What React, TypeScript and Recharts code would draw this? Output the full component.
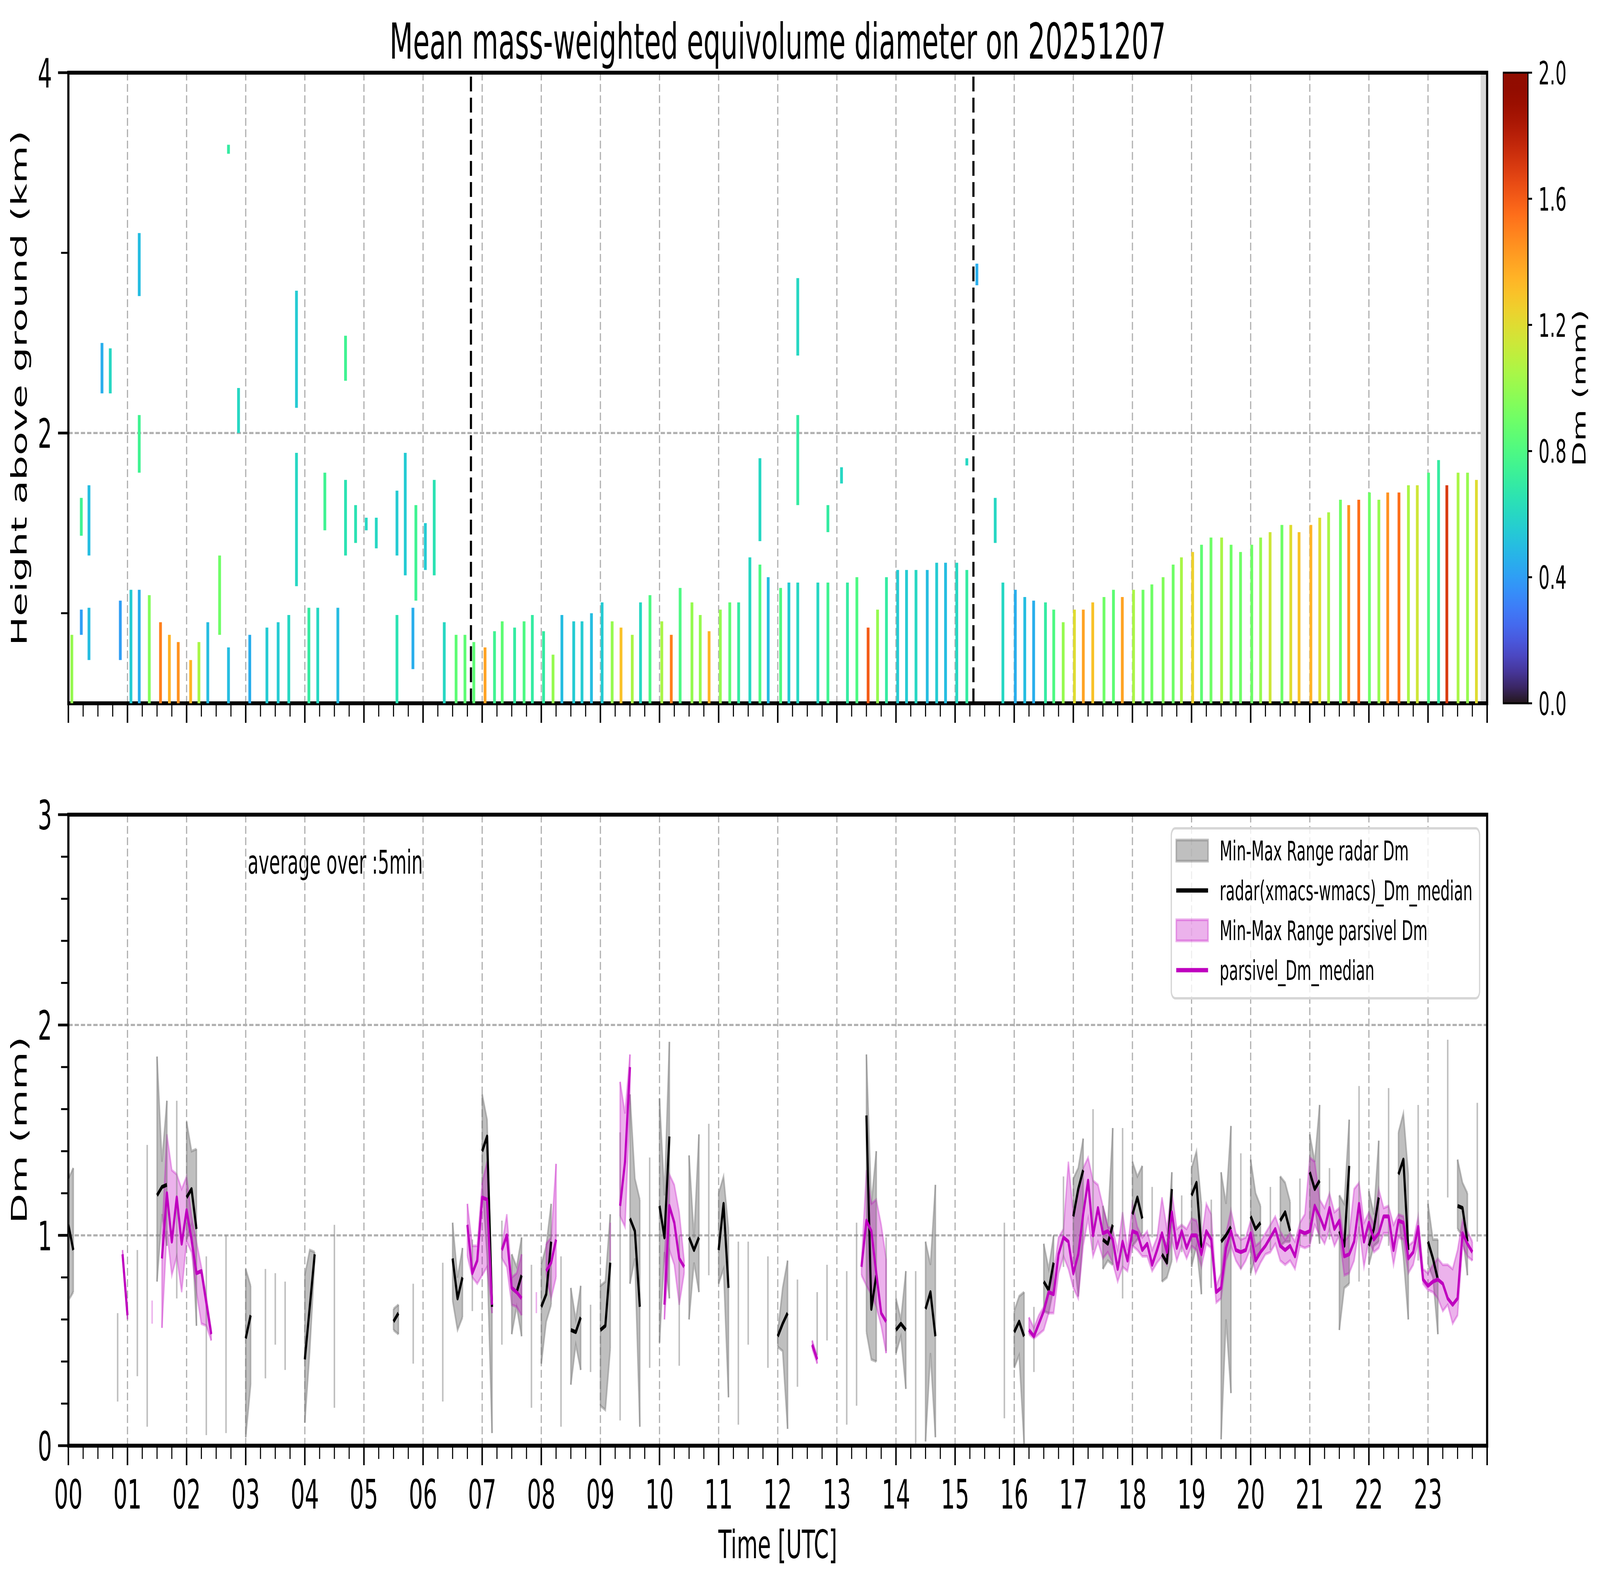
import React from "react";
import {
  ComposedChart,
  BarChart,
  Bar,
  Area,
  Line,
  XAxis,
  YAxis,
  CartesianGrid,
  ReferenceLine,
  ReferenceArea,
  Cell,
} from "recharts";

const FONT = "'DejaVu Sans', sans-serif";
const W = 7442;
const H = 4031;
const PLOT_LEFT = 318;
const PLOT_RIGHT = 6917;

// ---------------- top panel: radar Dm columns ----------------
const LOWEST_GATE_KM = 0.5;

// columns reaching down to the lowest gate: time [h], top [km], Dm [mm]
const SURFACE_T = [
  0.06, 1.06, 1.2, 1.37, 1.56, 1.71, 1.86, 2.07, 2.21, 2.36,
  2.71, 3.07, 3.36, 3.55, 3.73, 4.07, 4.22, 4.56, 5.56, 6.36,
  6.56, 6.71, 6.86, 7.05,
  7.21, 7.34, 7.55, 7.71, 7.85, 8.04, 8.2, 8.35, 8.55, 8.69,
  8.85, 9.03, 9.2, 9.35, 9.54, 9.68, 9.84, 10.04, 10.2, 10.35,
  10.55, 10.69, 10.84, 11.03, 11.19, 11.34, 11.53, 11.7, 11.84, 12.05,
  12.19, 12.34, 12.68, 12.85, 13.18, 13.34, 13.53, 13.69, 13.84, 14.03,
  14.18, 14.34, 14.53, 14.69, 14.84, 15.03, 15.2, 15.81,
  16.02, 16.18, 16.33, 16.53, 16.67, 16.83, 17.02, 17.17, 17.33, 17.52,
  17.68, 17.83, 18.02, 18.18, 18.33, 18.52, 18.69, 18.83, 19.02, 19.17,
  19.33, 19.51, 19.67, 19.83, 20.02, 20.17, 20.33, 20.53, 20.68, 20.82,
  21.02, 21.17, 21.32, 21.52, 21.66, 21.83, 22.01, 22.17, 22.32, 22.51,
  22.67, 22.82, 23.01, 23.18, 23.32, 23.51, 23.67, 23.82,
];
const SURFACE_TOP = [
  0.88, 1.13, 1.13, 1.1, 0.95, 0.88, 0.84, 0.74, 0.84, 0.95,
  0.81, 0.88, 0.92, 0.95, 0.99, 1.03, 1.03, 1.03, 0.99, 0.95,
  0.88, 0.88, 0.84, 0.81,
  0.9, 0.955, 0.92, 0.955, 0.99, 0.9, 0.77, 0.99, 0.955, 0.955,
  1.0, 1.06, 0.955, 0.92, 0.88, 1.06, 1.1, 0.955, 0.88, 1.14,
  1.06, 0.99, 0.9, 1.02, 1.06, 1.06, 1.31, 1.27, 1.2, 1.14,
  1.17, 1.17, 1.17, 1.17, 1.17, 1.2, 0.92, 1.02, 1.2, 1.24,
  1.24, 1.24, 1.24, 1.28, 1.28, 1.28, 1.24, 1.17,
  1.13, 1.09, 1.07, 1.06, 1.02, 0.95, 1.02, 1.02, 1.06, 1.09,
  1.13, 1.09, 1.13, 1.13, 1.16, 1.2, 1.27, 1.31, 1.34, 1.38,
  1.42, 1.42, 1.38, 1.34, 1.38, 1.42, 1.45, 1.49, 1.49, 1.45,
  1.49, 1.53, 1.56, 1.63, 1.6, 1.63, 1.67, 1.63, 1.67, 1.67,
  1.71, 1.71, 1.78, 1.85, 1.71, 1.78, 1.78, 1.74,
];
const SURFACE_DM = [
  1.0, 0.55, 0.45, 0.95, 1.5, 1.35, 1.45, 1.35, 1.05, 0.5,
  0.5, 0.45, 0.55, 0.55, 0.6, 0.7, 0.6, 0.5, 0.65, 0.6,
  0.85, 0.85, 0.85, 1.4,
  0.75, 0.85, 0.7, 0.8, 0.7, 0.7, 1.0, 0.5, 0.55, 0.55,
  0.5, 0.55, 1.0, 1.3, 1.05, 0.6, 0.8, 1.05, 1.5, 0.8,
  1.0, 1.0, 1.35, 1.0, 0.85, 0.7, 0.6, 0.8, 0.5, 0.8,
  0.55, 0.6, 0.6, 0.75, 0.7, 0.8, 1.6, 1.0, 0.7, 0.55,
  0.55, 0.6, 0.5, 0.55, 0.5, 0.6, 0.7, 0.6,
  0.45, 0.5, 0.45, 0.7, 0.8, 1.0, 1.2, 1.4, 1.3, 0.9,
  0.85, 1.4, 1.05, 0.9, 0.9, 0.95, 0.9, 1.05, 1.25, 0.85,
  0.9, 1.05, 0.9, 0.9, 0.9, 1.0, 1.15, 0.9, 1.2, 1.3,
  1.35, 1.2, 1.05, 0.9, 1.45, 1.55, 0.9, 1.0, 1.45, 1.55,
  1.05, 1.15, 0.8, 0.7, 1.7, 1.05, 1.0, 1.2,
];

// detached echo segments aloft: time [h], base [km], top [km], Dm [mm]
const ALOFT_T = [
  0.22, 0.35, 0.88, 2.56, 5.83,
  0.22, 0.35, 0.57, 0.71, 1.2, 1.2, 2.71, 2.88, 3.86, 3.86,
  4.34, 4.69, 4.69, 4.86, 5.04, 5.21, 5.56, 5.7, 5.88, 6.04, 6.19,
  11.7, 12.34, 12.34, 12.85, 13.08, 15.2, 15.37, 15.68,
];
const ALOFT_BASE = [
  0.88, 0.74, 0.74, 0.88, 0.69,
  1.43, 1.32, 2.22, 2.22, 2.76, 1.78, 3.55, 2.0, 1.15, 2.14,
  1.46, 1.32, 2.29, 1.39, 1.46, 1.36, 1.32, 1.21, 1.07, 1.24, 1.21,
  1.4, 1.6, 2.43, 1.45, 1.72, 1.82, 2.82, 1.39,
];
const ALOFT_TOP = [
  1.02, 1.03, 1.07, 1.32, 1.03,
  1.64, 1.71, 2.5, 2.47, 3.11, 2.1, 3.6, 2.25, 1.89, 2.79,
  1.78, 1.74, 2.54, 1.6, 1.53, 1.53, 1.68, 1.89, 1.6, 1.5, 1.74,
  1.86, 2.1, 2.86, 1.6, 1.81, 1.86, 2.94, 1.64,
];
const ALOFT_DM = [
  0.4, 0.5, 0.4, 0.9, 0.45,
  0.75, 0.5, 0.45, 0.6, 0.5, 0.75, 0.7, 0.6, 0.6, 0.55,
  0.75, 0.65, 0.75, 0.65, 0.6, 0.6, 0.55, 0.55, 0.75, 0.55, 0.65,
  0.6, 0.7, 0.6, 0.7, 0.6, 0.6, 0.45, 0.6,
];

const EVENT_LINES = [6.81, 15.31];
const MISSING_FROM = 23.89;

// ---------------- bottom panel: 5-min Dm statistics ----------------
// radar (minutes of day, min, median, max)
const R_MIN_OF_DAY = [
  0, 5, 50, 70, 80, 90, 95, 100, 110, 120,
  125, 130, 140, 160, 180, 185, 200, 210, 220, 240,
  245, 250, 270, 330, 335, 350, 380, 390, 395, 400,
  410, 420, 425, 430, 440, 450, 455, 460, 470, 480,
  485, 490, 500, 510, 515, 520, 530, 540, 545, 550,
  560, 570, 575, 580, 590, 600, 605, 610, 620, 630,
  635, 640, 650, 660, 665, 670, 680, 690, 710, 720,
  725, 730, 740, 760, 770, 790, 800, 810, 815, 820,
  830, 840, 845, 850, 860, 870, 875, 880, 950, 960,
  965, 970, 980, 990, 995, 1000, 1010, 1020, 1025, 1030,
  1040, 1050, 1055, 1060, 1070, 1080, 1085, 1090, 1100, 1110,
  1115, 1120, 1130, 1140, 1145, 1150, 1160, 1170, 1175, 1180,
  1190, 1200, 1205, 1210, 1220, 1230, 1235, 1240, 1250, 1260,
  1265, 1270, 1280, 1290, 1295, 1300, 1310, 1320, 1325, 1330,
  1340, 1350, 1355, 1360, 1370, 1380, 1385, 1390, 1400, 1410,
  1415, 1420, 1430,
];
const R_LO = [
  0.69, 0.73, 0.21, 0.33, 0.09, 0.78, 1.1, 0.95, 0.7, 0.98,
  1.05, 0.57, 0.05, 0.06, 0.04, 0.29, 0.32, 0.48, 0.36, 0.11,
  0.45, 0.88, 0.18, 0.55, 0.53, 0.39, 0.21, 0.69, 0.55, 0.61,
  0.64, 1.25, 0.9, 0.06, 0.48, 0.53, 0.66, 0.52, 0.18, 0.39,
  0.59, 0.67, 0.09, 0.29, 0.48, 0.36, 0.35, 0.19, 0.17, 0.46,
  0.12, 0.77, 0.89, 0.09, 0.37, 0.49, 0.92, 0.7, 0.38, 0.6,
  0.87, 0.73, 0.81, 0.77, 0.84, 0.23, 0.1, 0.48, 0.37, 0.47,
  0.45, 0.08, 0.28, 0.43, 0.5, 0.1, 0.19, 0.54, 0.41, 0.4,
  0.45, 0.44, 0.52, 0.27, 0.01, 0.02, 0.44, 0.04, 0.13, 0.37,
  0.43, 0.01, 0.35, 0.64, 0.63, 0.75, 0.85, 0.93, 0.71, 1.0,
  0.93, 0.84, 0.88, 0.86, 0.7, 0.95, 0.98, 1.01, 0.99, 0.78,
  0.8, 0.88, 0.92, 0.85, 0.95, 0.72, 0.75, 0.03, 0.6, 0.25,
  0.84, 0.82, 0.9, 0.92, 0.93, 0.95, 0.97, 0.97, 0.95, 0.96,
  1.15, 0.96, 0.98, 0.55, 0.75, 0.77, 0.78, 0.86, 0.95, 0.97,
  0.95, 1.1, 0.9, 0.6, 0.88, 0.86, 0.8, 0.53, 1.18, 1.03,
  1.0, 0.81, 0.97,
];
const R_MED = [
  1.05, 0.93, 0.42, 0.63, 0.76, 1.19, 1.23, 1.24, 1.17, 1.18,
  1.22, 1.03, 0.48, 0.53, 0.51, 0.62, 0.58, 0.65, 0.57, 0.41,
  0.66, 0.91, 0.62, 0.59, 0.63, 0.58, 0.54, 0.89, 0.7, 0.8,
  0.81, 1.4, 1.47, 0.66, 0.78, 0.75, 0.73, 0.81, 0.52, 0.66,
  0.72, 0.97, 0.5, 0.55, 0.54, 0.61, 0.51, 0.55, 0.57, 0.87,
  0.8, 1.08, 1.02, 0.66, 0.87, 1.14, 0.99, 1.47, 0.69, 0.99,
  0.93, 0.99, 1.17, 0.93, 1.15, 0.75, 0.54, 0.73, 0.64, 0.52,
  0.58, 0.63, 0.54, 0.58, 0.68, 0.47, 0.63, 1.57, 0.65, 0.81,
  0.72, 0.55, 0.58, 0.55, 0.42, 0.65, 0.73, 0.52, 0.6, 0.54,
  0.59, 0.52, 0.5, 0.78, 0.74, 0.87, 1.06, 1.09, 1.22, 1.31,
  1.26, 0.98, 0.96, 1.05, 1.1, 1.1, 1.18, 1.08, 1.11, 0.91,
  0.87, 1.22, 1.05, 1.19, 1.25, 0.94, 0.96, 0.97, 1.0, 1.04,
  1.11, 1.09, 1.03, 1.06, 1.08, 1.07, 1.11, 1.02, 1.11, 1.3,
  1.22, 1.26, 1.15, 1.02, 0.95, 1.33, 1.25, 0.95, 1.03, 1.18,
  1.32, 1.29, 1.36, 0.93, 1.25, 0.97, 0.89, 0.79, 1.55, 1.14,
  1.13, 0.97, 1.3,
];
const R_HI = [
  1.27, 1.32, 0.63, 0.93, 1.43, 1.85, 1.35, 1.64, 1.64, 1.54,
  1.4, 1.41, 0.9, 1.0, 0.84, 0.76, 0.84, 0.82, 0.78, 0.81,
  0.93, 0.92, 1.05, 0.65, 0.67, 0.77, 0.87, 1.06, 0.8, 0.94,
  0.98, 1.67, 1.55, 0.68, 1.07, 0.91, 0.85, 0.99, 0.86, 0.86,
  0.95, 1.15, 0.9, 0.75, 0.6, 0.76, 0.67, 0.76, 0.78, 1.1,
  1.49, 1.67, 1.27, 1.17, 1.37, 1.65, 1.19, 1.92, 1.0, 1.38,
  0.99, 1.48, 1.53, 1.2, 1.28, 1.03, 0.97, 0.97, 0.9, 0.54,
  0.75, 0.88, 0.79, 0.73, 0.86, 0.83, 1.06, 1.86, 1.15, 1.4,
  0.99, 0.7, 0.6, 0.83, 0.83, 0.97, 0.86, 1.24, 1.06, 0.64,
  0.71, 0.73, 0.66, 0.96, 0.84, 1.0, 1.28, 1.27, 1.32, 1.46,
  1.6, 1.14, 1.05, 1.51, 1.51, 1.35, 1.28, 1.33, 1.23, 1.0,
  0.95, 1.3, 1.19, 1.32, 1.4, 1.15, 1.17, 1.3, 1.15, 1.52,
  1.39, 1.36, 1.2, 1.14, 1.23, 1.28, 1.25, 1.16, 1.27, 1.48,
  1.35, 1.62, 1.32, 1.19, 1.15, 1.55, 1.71, 1.21, 1.1, 1.45,
  1.7, 1.49, 1.58, 1.29, 1.62, 1.15, 0.98, 0.98, 1.93, 1.36,
  1.25, 1.2, 1.63,
];

// parsivel (minutes of day, min, median, max)
const P_MIN_OF_DAY = [
  55, 60, 85, 95, 100, 105, 110, 115, 120, 125,
  130, 135, 140, 145, 405, 410, 415, 420, 425, 430,
  440, 445, 450, 455, 460, 475, 485, 490, 495, 550,
  560, 565, 570, 605, 610, 615, 620, 625, 755, 760,
  805, 810, 815, 820, 825, 830,
  975, 980, 985, 990, 995, 1000, 1005, 1010, 1015, 1020,
  1025, 1030, 1035, 1040, 1045, 1050, 1055, 1060, 1065, 1070,
  1075, 1080, 1085, 1090, 1095, 1100, 1105, 1110, 1115, 1120,
  1125, 1130, 1135, 1140, 1145, 1150, 1155, 1160, 1165, 1170,
  1175, 1180, 1185, 1190, 1195, 1200, 1205, 1210, 1215, 1220,
  1225, 1230, 1235, 1240, 1245, 1250, 1255, 1260, 1265, 1270,
  1275, 1280, 1285, 1290, 1295, 1300, 1305, 1310, 1315, 1320,
  1325, 1330, 1335, 1340, 1345, 1350, 1355, 1360, 1365, 1370,
  1375, 1380, 1385, 1390, 1395, 1400, 1405, 1410, 1415, 1420,
  1425,
];
const P_LO = [
  0.89, 0.6, 0.58, 0.56, 1.02, 0.81, 0.9, 0.73, 0.97, 0.92,
  0.73, 0.58, 0.57, 0.5, 0.9, 0.8, 0.77, 0.81, 0.85, 0.63,
  0.89, 0.85, 0.67, 0.66, 0.62, 0.63, 0.81, 0.7, 0.8, 0.88,
  1.09, 1.04, 1.62, 0.6, 0.93, 0.86, 0.67, 0.82, 0.46, 0.39,
  0.81, 0.76, 0.72, 0.66, 0.57, 0.44,
  0.53, 0.51, 0.53, 0.55, 0.63, 0.63, 0.82, 0.9, 0.84, 0.75,
  0.7, 0.95, 1.08, 0.9, 0.97, 0.89, 0.92, 0.87, 0.78, 0.85,
  0.83, 0.95, 0.93, 0.9, 0.9, 0.83, 0.87, 0.9, 0.86, 0.98,
  0.88, 0.95, 0.89, 0.95, 0.93, 0.85, 0.96, 0.94, 0.68, 0.7,
  0.88, 0.95, 0.88, 0.84, 0.88, 0.94, 0.82, 0.87, 0.91, 0.92,
  0.96, 0.88, 0.86, 0.88, 0.84, 0.95, 0.94, 0.95, 1.05, 1.0,
  0.96, 1.03, 0.95, 1.0, 0.81, 0.82, 0.88, 1.04, 0.85, 0.98,
  0.92, 0.94, 1.01, 1.01, 0.86, 0.99, 0.98, 0.82, 0.86, 0.97,
  0.77, 0.74, 0.73, 0.7, 0.64, 0.67, 0.58, 0.62, 0.95, 0.9,
  0.88,
];
const P_MED = [
  0.91, 0.62, 0.63, 0.89, 1.2, 0.97, 1.18, 0.96, 1.12, 0.98,
  0.82, 0.83, 0.68, 0.53, 1.05, 0.82, 0.88, 1.18, 1.17, 0.67,
  0.93, 1.0, 0.75, 0.73, 0.7, 0.68, 0.83, 0.87, 0.98, 0.97,
  1.14, 1.35, 1.8, 0.67, 1.14, 1.06, 0.89, 0.85, 0.48, 0.41,
  0.85, 1.07, 1.02, 0.82, 0.63, 0.59,
  0.55, 0.52, 0.58, 0.64, 0.73, 0.72, 0.91, 0.99, 0.97, 0.82,
  0.91, 1.1, 1.26, 1.0, 1.13, 1.01, 1.02, 0.98, 0.84, 0.97,
  0.88, 1.02, 1.01, 0.93, 0.96, 0.86, 0.93, 1.01, 0.92, 1.11,
  0.94, 1.02, 0.94, 1.0, 1.0, 0.91, 1.02, 0.98, 0.73, 0.75,
  0.94, 1.02, 0.93, 0.92, 0.93, 1.01, 0.88, 0.92, 0.95, 0.99,
  1.03, 0.95, 0.93, 0.95, 0.9, 1.02, 1.01, 1.02, 1.14, 1.09,
  1.03, 1.13, 1.03, 1.07, 0.9, 0.91, 0.97, 1.15, 0.97, 1.06,
  0.98, 1.01, 1.09, 1.09, 0.93, 1.07, 1.06, 0.89, 0.92, 1.04,
  0.79, 0.76, 0.78, 0.79, 0.77, 0.7, 0.67, 0.7, 1.01, 0.96,
  0.92,
];
const P_HI = [
  0.93, 0.64, 0.69, 1.0, 1.48, 1.31, 1.29, 1.22, 1.28, 1.09,
  0.97, 0.85, 0.71, 0.55, 1.15, 0.95, 0.95, 1.25, 1.35, 0.7,
  0.95, 1.1, 0.8, 0.82, 0.91, 0.73, 0.96, 0.99, 1.34, 1.06,
  1.73, 1.58, 1.86, 0.9, 1.29, 1.24, 1.11, 0.88, 0.5, 0.43,
  0.87, 1.31, 1.15, 1.17, 1.05, 0.89,
  0.61, 0.56, 0.62, 0.66, 0.74, 0.82, 0.99, 1.03, 1.35, 1.1,
  1.2, 1.32, 1.37, 1.26, 1.24, 1.14, 1.04, 1.03, 0.93, 1.11,
  0.93, 1.15, 1.04, 0.99, 1.02, 0.93, 0.99, 1.18, 1.03, 1.21,
  1.03, 1.05, 1.03, 1.08, 1.07, 0.98, 1.15, 1.1, 0.76, 0.82,
  1.01, 1.12, 1.01, 0.98, 0.99, 1.07, 0.95, 0.97, 1.01, 1.05,
  1.09, 1.02, 0.98, 1.01, 0.97, 1.06, 1.1, 1.37, 1.35, 1.17,
  1.13, 1.2, 1.11, 1.13, 0.97, 1.0, 1.22, 1.25, 1.06, 1.11,
  1.05, 1.22, 1.13, 1.14, 1.05, 1.1, 1.09, 0.95, 0.97, 1.09,
  0.84, 0.82, 0.86, 0.89, 0.86, 0.86, 0.84, 0.93, 1.07, 1.02,
  0.97,
];

const HOUR_TICKS = Array.from({ length: 97 }, (_, i) => i / 4);
const HOUR_GRID = Array.from({ length: 23 }, (_, i) => i + 1);
const TOP_Y_TICKS = [1, 2, 3, 4];
const BOT_Y_TICKS = Array.from({ length: 16 }, (_, i) => Math.round(i * 2) / 10);
const CB_TICKS = [0, 0.4, 0.8, 1.2, 1.6, 2.0];
const CB_MAX = 2;

const LEGEND_ITEMS = [
  { label: "Min-Max Range radar Dm", kind: "patch", color: "rgba(128,128,128,0.5)" },
  { label: "radar(xmacs-wmacs)_Dm_median", kind: "line", color: "#000000" },
  { label: "Min-Max Range parsivel Dm", kind: "patch", color: "rgba(191,0,191,0.3)" },
  { label: "parsivel_Dm_median", kind: "line", color: "#bf00bf" },
];

// matplotlib "turbo" colormap (polynomial approximation)
function turbo(v: number): string {
  const x = Math.min(1, Math.max(0, v));
  const r = 0.13572138 + x * (4.6153926 + x * (-42.66032258 + x * (132.13108234 + x * (-152.94239396 + x * 59.28637943))));
  const g = 0.09140261 + x * (2.19418839 + x * (4.84296658 + x * (-14.18503333 + x * (4.27729857 + x * 2.82956604))));
  const b = 0.1066733 + x * (12.64194608 + x * (-60.58204836 + x * (110.36276771 + x * (-89.90310912 + x * 27.34824973))));
  const c = (u: number) => Math.round(255 * Math.min(1, Math.max(0, u)));
  return `rgb(${c(r)},${c(g)},${c(b)})`;
}

const columns = [
  ...SURFACE_T.map((t, i) => ({ t, range: [LOWEST_GATE_KM, SURFACE_TOP[i]], dm: SURFACE_DM[i] })),
  ...ALOFT_T.map((t, i) => ({ t, range: [ALOFT_BASE[i], ALOFT_TOP[i]], dm: ALOFT_DM[i] })),
];

function slotIndex(minutes: number[]) {
  const m = new Map<number, number>();
  minutes.forEach((v, i) => m.set(Math.round(v / 5), i));
  return m;
}
const rIdx = slotIndex(R_MIN_OF_DAY);
const pIdx = slotIndex(P_MIN_OF_DAY);

const stats = Array.from({ length: 288 }, (_, s) => {
  const ri = rIdx.get(s);
  const pi = pIdx.get(s);
  const rEdge = ri !== undefined && (!rIdx.has(s - 1) || !rIdx.has(s + 1));
  const pEdge = pi !== undefined && (!pIdx.has(s - 1) || !pIdx.has(s + 1));
  return {
    t: s / 12,
    rRange: ri !== undefined ? [R_LO[ri], R_HI[ri]] : [null, null],
    rMed: ri !== undefined ? R_MED[ri] : null,
    rEdge: rEdge ? [R_LO[ri as number], R_HI[ri as number]] : null,
    pRange: pi !== undefined ? [P_LO[pi], P_HI[pi]] : [null, null],
    pMed: pi !== undefined ? P_MED[pi] : null,
    pEdge: pEdge ? [P_LO[pi as number], P_HI[pi as number]] : null,
  };
});

const isWhole = (v: number) => Math.abs(v - Math.round(v)) < 1e-6;

const hourTick = (withLabels: boolean) => (props: any) => {
  const { x, y, payload } = props;
  const v = payload.value;
  const major = isWhole(v);
  return (
    <g>
      <line x1={x} x2={x} y1={y} y2={y + (major ? 50 : 34)} stroke="#000" strokeWidth={major ? 7 : 5} />
      {withLabels && major && v < 24 ? (
        <text x={x} y={y + 161} textAnchor="middle" fontSize={104} fontFamily={FONT} fill="#000">
          {String(Math.round(v)).padStart(2, "0")}
        </text>
      ) : null}
    </g>
  );
};

const leftTick = (isMajor: (v: number) => boolean) => (props: any) => {
  const { x, y, payload } = props;
  const v = payload.value;
  const major = isMajor(v);
  return (
    <g>
      <line x1={x - (major ? 48 : 34)} x2={x} y1={y} y2={y} stroke="#000" strokeWidth={major ? 7 : 5} />
      {major ? (
        <text x={x - 76} y={y + 38} textAnchor="end" fontSize={104} fontFamily={FONT} fill="#000">
          {Math.round(v)}
        </text>
      ) : null}
    </g>
  );
};

const colorbarTick = (props: any) => {
  const { x, y, payload } = props;
  return (
    <g>
      <line x1={x} x2={x + 19} y1={y} y2={y} stroke="#000" strokeWidth={5} />
      <text x={x + 49} y={y + 30} fontSize={82} fontFamily={FONT} fill="#000">
        {Number(payload.value).toFixed(1)}
      </text>
    </g>
  );
};

const GRID = { stroke: "#b0b0b0", strokeWidth: 5.5, strokeDasharray: "20 9" };

// axes get a 1px box (recharts skips zero-sized axes); margins absorb it
const AXIS_PX = 1;

function TopPanel() {
  return (
    <div style={{ position: "absolute", left: 0, top: 0 }}>
      <ComposedChart
        width={W}
        height={1900}
        data={columns}
        margin={{ top: 186, right: W - PLOT_RIGHT, bottom: 100 - AXIS_PX, left: PLOT_LEFT - AXIS_PX }}
      >
        <CartesianGrid {...GRID} verticalValues={HOUR_GRID} horizontalValues={[2]} />
        <XAxis
          dataKey="t"
          type="number"
          domain={[0, 24]}
          allowDataOverflow
          ticks={HOUR_TICKS}
          interval={0}
          height={AXIS_PX}
          axisLine={false}
          tickLine={false}
          tickSize={0}
          tickMargin={0}
          tick={hourTick(false)}
        />
        <YAxis
          type="number"
          domain={[LOWEST_GATE_KM, 4]}
          allowDataOverflow
          ticks={TOP_Y_TICKS}
          interval={0}
          width={AXIS_PX}
          axisLine={false}
          tickLine={false}
          tickSize={0}
          tickMargin={0}
          tick={leftTick((v) => v === 2 || v === 4)}
        />
        <ReferenceArea x1={MISSING_FROM} x2={24} y1={LOWEST_GATE_KM} y2={4} fill="#d9d9d9" fillOpacity={1} stroke="none" />
        <Bar dataKey="range" barSize={13} isAnimationActive={false}>
          {columns.map((c, i) => (
            <Cell key={i} fill={turbo(c.dm / CB_MAX)} />
          ))}
        </Bar>
        {EVENT_LINES.map((x) => (
          <ReferenceLine key={x} x={x} stroke="#000" strokeWidth={10} strokeDasharray="38 16" />
        ))}
        <ReferenceArea x1={0} x2={24} y1={LOWEST_GATE_KM} y2={4} fill="none" stroke="#000" strokeWidth={10} />
      </ComposedChart>
    </div>
  );
}

function BottomPanel() {
  return (
    <div style={{ position: "absolute", left: 0, top: 1950 }}>
      <ComposedChart
        width={W}
        height={2081}
        data={stats}
        margin={{ top: 135, right: W - PLOT_RIGHT, bottom: 331 - AXIS_PX, left: PLOT_LEFT - AXIS_PX }}
      >
        <CartesianGrid {...GRID} verticalValues={HOUR_GRID} horizontalValues={[1, 2]} />
        <XAxis
          dataKey="t"
          type="number"
          domain={[0, 24]}
          allowDataOverflow
          ticks={HOUR_TICKS}
          interval={0}
          height={AXIS_PX}
          axisLine={false}
          tickLine={false}
          tickSize={0}
          tickMargin={0}
          tick={hourTick(true)}
        />
        <XAxis xAxisId="alt" dataKey="t" type="number" domain={[0, 24]} allowDataOverflow hide />
        <YAxis
          type="number"
          domain={[0, 3]}
          allowDataOverflow
          ticks={BOT_Y_TICKS}
          interval={0}
          width={AXIS_PX}
          axisLine={false}
          tickLine={false}
          tickSize={0}
          tickMargin={0}
          tick={leftTick(isWhole)}
        />
        <Area
          dataKey="rRange"
          type="linear"
          fill="rgba(128,128,128,0.5)"
          fillOpacity={1}
          stroke="rgba(128,128,128,0.5)"
          strokeWidth={7}
          connectNulls={false}
          dot={false}
          activeDot={false}
          isAnimationActive={false}
        />
        <Bar dataKey="rEdge" barSize={7} fill="rgba(128,128,128,0.5)" isAnimationActive={false} />
        <Area
          dataKey="pRange"
          type="linear"
          fill="rgba(191,0,191,0.3)"
          fillOpacity={1}
          stroke="rgba(191,0,191,0.3)"
          strokeWidth={7}
          connectNulls={false}
          dot={false}
          activeDot={false}
          isAnimationActive={false}
        />
        <Bar xAxisId="alt" dataKey="pEdge" barSize={7} fill="rgba(191,0,191,0.3)" isAnimationActive={false} />
        <Line
          dataKey="rMed"
          type="linear"
          stroke="#000000"
          strokeWidth={10}
          strokeLinejoin="round"
          dot={false}
          activeDot={false}
          connectNulls={false}
          isAnimationActive={false}
        />
        <Line
          dataKey="pMed"
          type="linear"
          stroke="#bf00bf"
          strokeWidth={10}
          strokeLinejoin="round"
          dot={false}
          activeDot={false}
          connectNulls={false}
          isAnimationActive={false}
        />
        <ReferenceArea x1={0} x2={24} y1={0} y2={3} fill="none" stroke="#000" strokeWidth={10} />
      </ComposedChart>
    </div>
  );
}

function Colorbar() {
  const stops = Array.from({ length: 41 }, (_, i) => i / 40);
  return (
    <div style={{ position: "absolute", left: 6990, top: 0 }}>
      <BarChart
        width={450}
        height={1900}
        data={[{ name: "Dm", span: [0, CB_MAX] }]}
        margin={{ top: 186, right: 333 - AXIS_PX, bottom: 100, left: 0 }}
        barCategoryGap={0}
      >
        <defs>
          <linearGradient id="turboGrad" x1="0" y1="1" x2="0" y2="0">
            {stops.map((s) => (
              <stop key={s} offset={`${s * 100}%`} stopColor={turbo(s)} />
            ))}
          </linearGradient>
        </defs>
        <XAxis dataKey="name" hide />
        <YAxis
          orientation="right"
          type="number"
          domain={[0, CB_MAX]}
          ticks={CB_TICKS}
          interval={0}
          width={AXIS_PX}
          axisLine={false}
          tickLine={false}
          tickSize={0}
          tickMargin={0}
          tick={colorbarTick}
        />
        <Bar dataKey="span" fill="url(#turboGrad)" stroke="#000" strokeWidth={5} isAnimationActive={false} />
      </BarChart>
    </div>
  );
}

function Overlay() {
  const midX = (PLOT_LEFT + PLOT_RIGHT) / 2;
  const legendRows = [2202, 2304, 2406, 2508];
  return (
    <svg
      width={W}
      height={H}
      style={{ position: "absolute", left: 0, top: 0, pointerEvents: "none" }}
      fontFamily={FONT}
    >
      <text x={midX} y={150} textAnchor="middle" fontSize={126} fill="#000">
        Mean mass-weighted equivolume diameter on 20251207
      </text>
      <text transform="translate(124, 993) rotate(-90)" textAnchor="middle" fontSize={100} fill="#000">
        Height above ground (km)
      </text>
      <text transform="translate(124, 2892) rotate(-90)" textAnchor="middle" fontSize={100} fill="#000">
        Dm (mm)
      </text>
      <text x={midX} y={3988} textAnchor="middle" fontSize={100} fill="#000">
        Time [UTC]
      </text>
      <text transform="translate(7375, 993) rotate(-90)" textAnchor="middle" fontSize={84} fill="#000">
        Dm (mm)
      </text>
      <text x={1152} y={2236} fontSize={83} fill="#000">
        average over :5min
      </text>

      <rect x={5448} y={2120} width={1434} height={435} rx={18} fill="#ffffff" fillOpacity={0.8} stroke="#d6d6d6" strokeWidth={6} />
      {LEGEND_ITEMS.map((item, i) => {
        const base = legendRows[i];
        const cy = base - 25;
        return (
          <g key={item.label}>
            {item.kind === "patch" ? (
              <rect x={5471} y={cy - 27} width={148} height={54} fill={item.color} stroke={item.color} strokeWidth={7} />
            ) : (
              <line x1={5471} x2={5619} y1={cy} y2={cy} stroke={item.color} strokeWidth={11} />
            )}
            <text x={5673} y={base} fontSize={69} fill="#000">
              {item.label}
            </text>
          </g>
        );
      })}
    </svg>
  );
}

// fit the fixed-size figure into the window if the window is smaller
function viewportScale() {
  if (typeof window === "undefined") return { sx: 1, sy: 1 };
  const vw = window.innerWidth || W;
  const vh = window.innerHeight || H;
  return { sx: Math.min(1, vw / W), sy: Math.min(1, vh / H) };
}

export default function App() {
  const [scale, setScale] = React.useState(viewportScale);
  React.useEffect(() => {
    const onResize = () => setScale(viewportScale());
    window.addEventListener("resize", onResize);
    return () => window.removeEventListener("resize", onResize);
  }, []);
  return (
    <div
      style={{
        position: "absolute",
        left: 0,
        top: 0,
        width: W,
        height: H,
        background: "#fff",
        fontFamily: FONT,
        transform: `scale(${scale.sx}, ${scale.sy})`,
        transformOrigin: "0 0",
      }}
    >
      <TopPanel />
      <BottomPanel />
      <Colorbar />
      <Overlay />
    </div>
  );
}
